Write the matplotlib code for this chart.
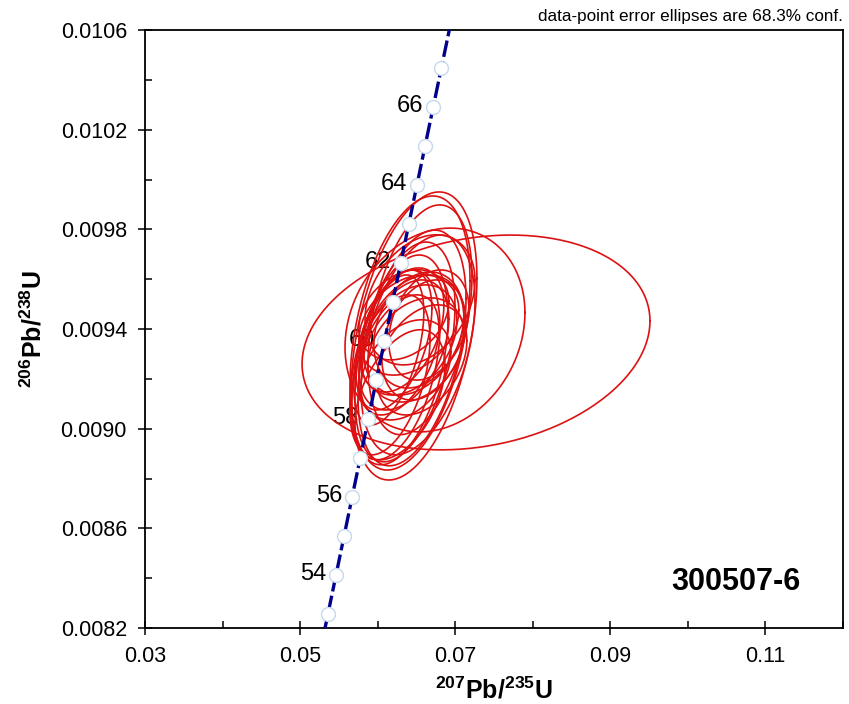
import numpy as np
import matplotlib
matplotlib.use('Agg')
import matplotlib.pyplot as plt

plt.rcParams['font.family'] = ['Liberation Sans', 'DejaVu Sans']
plt.rcParams['mathtext.fontset'] = 'custom'
plt.rcParams['mathtext.rm'] = 'Liberation Sans'
plt.rcParams['mathtext.bf'] = 'Liberation Sans:bold'

# ---- data ----
LAMBDA_238 = 1.55125e-10   # decay constant 238U (1/yr)
LAMBDA_235 = 9.8485e-10    # decay constant 235U (1/yr)
curve_age_range = [52.0, 69.0]          # Ma, extent of drawn concordia
marker_ages = list(range(53, 68))       # Ma, age markers on concordia
label_ages = [54, 56, 58, 60, 62, 64, 66]

# error ellipses: centre (207Pb/235U, 206Pb/238U), half-extents and correlation
ell_x = [0.07268, 0.06739,
         0.06468, 0.06417, 0.06520, 0.06443, 0.06352, 0.06288, 0.06546, 0.06223,
         0.06467, 0.06402, 0.06531, 0.06338, 0.06596, 0.06312, 0.06493, 0.06273,
         0.06402, 0.06209, 0.06570, 0.06364, 0.06338, 0.06144, 0.06660,
         0.06546, 0.06159, 0.06288]
ell_y = [0.009346, 0.009396,
         0.009372, 0.009384, 0.009336, 0.009324, 0.009308, 0.009276, 0.009437, 0.009256,
         0.009376, 0.009356, 0.009396, 0.009336, 0.009356, 0.009396, 0.009316, 0.009296,
         0.009416, 0.009356, 0.009276, 0.009236, 0.009457, 0.009316, 0.009416,
         0.009517, 0.009216, 0.009136]
ell_sx = [0.02243, 0.01160,
          0.00812, 0.00774, 0.00735, 0.00696, 0.00645, 0.00619, 0.00670, 0.00580,
          0.00645, 0.00619, 0.00580, 0.00580, 0.00542, 0.00542, 0.00619, 0.00516,
          0.00645, 0.00490, 0.00580, 0.00580, 0.00580, 0.00451, 0.00516,
          0.00709, 0.00516, 0.00580]
ell_sy = [0.000431, 0.000409,
          0.000578, 0.000550, 0.000441, 0.000473, 0.000441, 0.000421, 0.000461, 0.000381,
          0.000241, 0.000221, 0.000233, 0.000261, 0.000241, 0.000249, 0.000209, 0.000241,
          0.000201, 0.000281, 0.000221, 0.000201, 0.000181, 0.000301, 0.000221,
          0.000261, 0.000321, 0.000261]
ell_rho = [0.20, 0.17,
           0.40, 0.38, 0.40, 0.42, 0.42, 0.40, 0.38, 0.40,
           0.30, 0.35, 0.25, 0.40, 0.30, 0.40, 0.30, 0.45,
           0.30, 0.45, 0.35, 0.35, 0.30, 0.50, 0.30,
           0.30, 0.45, 0.45]

x_major = [0.03, 0.05, 0.07, 0.09, 0.11]
x_minor = [0.04, 0.06, 0.08, 0.10, 0.12]
y_major = [0.0082, 0.0086, 0.0090, 0.0094, 0.0098, 0.0102, 0.0106]
y_minor = [0.0084, 0.0088, 0.0092, 0.0096, 0.0100, 0.0104]

sample_name = '300507-6'
note_text = 'data-point error ellipses are 68.3% conf.'


def concordia(age_ma):
    t = np.asarray(age_ma, dtype=float) * 1e6
    return np.expm1(LAMBDA_235 * t), np.expm1(LAMBDA_238 * t)


fig = plt.figure(figsize=(8.49, 7.04), dpi=100)
ax = fig.add_axes([145 / 849, 1 - 628 / 704, (843 - 145) / 849, (628 - 30) / 704])

# ellipses
theta = np.linspace(0, 2 * np.pi, 361)
for cx, cy, sx, sy, r in zip(ell_x, ell_y, ell_sx, ell_sy, ell_rho):
    ex = cx + sx * np.cos(theta)
    ey = cy + sy * (r * np.cos(theta) + np.sqrt(1 - r * r) * np.sin(theta))
    ax.plot(ex, ey, color='#dd1111', lw=1.2, zorder=2)

# concordia curve
ages = np.linspace(curve_age_range[0], curve_age_range[1], 400)
cxs, cys = concordia(ages)
ax.plot(cxs, cys, color='#00008c', lw=2.4, linestyle=(0, (5, 1.3)), zorder=3)

mx, my = concordia(marker_ages)
ax.plot(mx, my, 'o', ms=10, mfc='white', mec='#c4d8ee', mew=1.0, zorder=4, linestyle='none')

lx, ly = concordia(label_ages)
for a, xx, yy in zip(label_ages, lx, ly):
    ax.annotate(str(a), (xx, yy), xytext=(-7, 1), textcoords='offset points',
                ha='right', va='center', fontsize=17, zorder=1.5)

ax.set_xlim(0.03, 0.12)
ax.set_ylim(0.0082, 0.0106)
ax.set_xticks(x_major)
ax.set_xticks(x_minor, minor=True)
ax.set_yticks(y_major)
ax.set_yticks(y_minor, minor=True)
ax.set_xticklabels(['%.2f' % v for v in x_major])
ax.set_yticklabels(['%.4f' % v for v in y_major])
ax.tick_params(which='major', direction='inout', length=10, width=1.1, labelsize=15.5, pad=8)
ax.tick_params(which='minor', direction='in', length=5, width=1.1)
for s in ax.spines.values():
    s.set_linewidth(1.3)

ax.set_xlabel(r'$\mathbf{^{207}Pb/^{235}U}$', fontsize=18, labelpad=7)
ax.set_ylabel(r'$\mathbf{^{206}Pb/^{238}U}$', fontsize=18, labelpad=10)

ax.text(0.847, 0.077, sample_name, transform=ax.transAxes, fontsize=22,
        fontweight='bold', ha='center', va='center')
ax.text(1.0, 1.01, note_text, transform=ax.transAxes, fontsize=12.3,
        ha='right', va='bottom')

fig.savefig('out.png', dpi=100)
